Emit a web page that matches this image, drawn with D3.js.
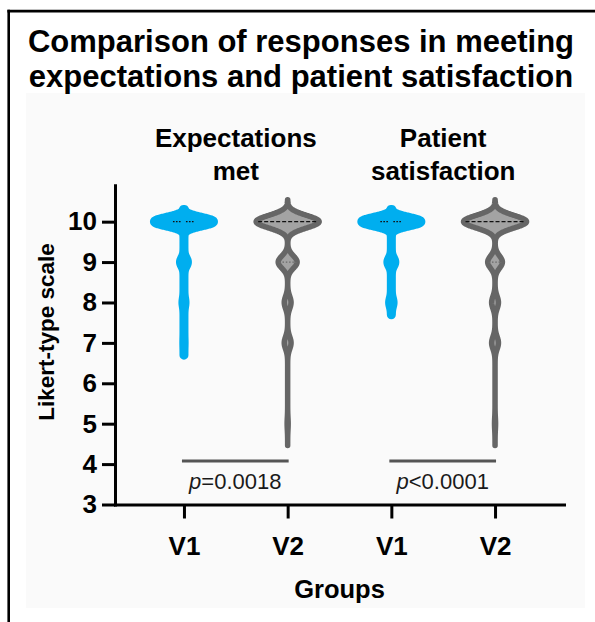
<!DOCTYPE html>
<html><head><meta charset="utf-8">
<script src="https://cdn.jsdelivr.net/npm/d3@7"></script>
<style>
html,body{margin:0;padding:0;background:#fff;}
svg{display:block;font-family:"Liberation Sans",Arial,Helvetica,sans-serif;}
</style></head><body>
<svg id="chart" width="595" height="622"></svg>
<script>
// ---------------- data ----------------
const titleLines = ["Comparison of responses in meeting", "expectations and patient satisfaction"];
const groupNames = [["Expectations", "met"], ["Patient", "satisfaction"]];
const categories = ["Expectations V1", "Expectations V2", "Satisfaction V1", "Satisfaction V2"];
const categoryLabels = ["V1", "V2", "V1", "V2"];
const scores = [4, 5, 6, 7, 8, 9, 10];
const countsExpV1 = [0, 0, 0, 1, 6, 20, 170];
const countsExpV2 = [0, 2, 0, 13, 13, 36, 120];
const countsSatV1 = [0, 0, 0, 0, 10, 20, 170];
const countsSatV2 = [0, 2, 0, 13, 13, 28, 120];
const yTicks = [3, 4, 5, 6, 7, 8, 9, 10];
const pValues = ["=0.0018", "<0.0001"];
const yLabel = "Likert-type scale";
const xLabel = "Groups";

// ---------------- setup ----------------
const svg = d3.select("#chart");
const W = 595, H = 622;

svg.append("rect").attr("x", 0).attr("y", 0).attr("width", W).attr("height", H).attr("fill", "#fff");
svg.append("rect").attr("x", 26).attr("y", 93).attr("width", 559).attr("height", 515).attr("fill", "#fafafa");
svg.append("line").attr("x1", 8.7).attr("x2", 8.7).attr("y1", 9.8).attr("y2", H).attr("stroke", "#000").attr("stroke-width", 2.6);
svg.append("line").attr("x1", 7.4).attr("x2", W).attr("y1", 11.1).attr("y2", 11.1).attr("stroke", "#000").attr("stroke-width", 2.6);

const y = d3.scaleLinear().domain([3, 10.9]).range([504.5, 185.3]);
const x = d3.scalePoint().domain(categories).range([115, 564]).padding(0.665);

const violins = [
  {cat: categories[0], counts: countsExpV1, v: "V1"},
  {cat: categories[1], counts: countsExpV2, v: "V2"},
  {cat: categories[2], counts: countsSatV1, v: "V1"},
  {cat: categories[3], counts: countsSatV2, v: "V2"}
];
const styles = {
  V1: {fill: "#00AEEF", stroke: "#00AEEF", sw: 9, bw: 0.105, cut: 2.9, maxW: 29.5},
  V2: {fill: "#a3a3a3", stroke: "#666666", sw: 5.5, bw: 0.155, cut: 3.5, maxW: 31.5}
};

function density(counts, h, t) {
  let d = 0;
  scores.forEach((s, i) => { if (counts[i]) d += counts[i] * Math.exp(-0.5 * ((t - s) / h) ** 2); });
  return d;
}

const gV = svg.append("g");
violins.forEach(vi => {
  const st = styles[vi.v];
  const present = scores.filter((s, i) => vi.counts[i] > 0);
  const lo = d3.min(present) - st.cut * st.bw, hi = d3.max(present) + st.cut * st.bw;
  const pts = d3.range(lo, hi + 1e-9, 0.005).map(t => [t, density(vi.counts, st.bw, t)]);
  const wScale = d3.scaleLinear().domain([0, d3.max(pts, d => d[1])]).range([0, st.maxW]);
  const cx = x(vi.cat);
  const area = d3.area().y(d => y(d[0])).x0(d => cx - wScale(d[1])).x1(d => cx + wScale(d[1]));
  gV.append("path").attr("d", area(pts))
    .attr("fill", st.fill).attr("stroke", st.stroke).attr("stroke-width", st.sw)
    .attr("stroke-linejoin", "round");
  const values = [];
  scores.forEach((s, i) => { for (let k = 0; k < vi.counts[i]; k++) values.push(s); });
  values.sort(d3.ascending);
  const med = d3.quantile(values, 0.5), q1 = d3.quantile(values, 0.25), q3 = d3.quantile(values, 0.75);
  const halfAt = t => wScale(density(vi.counts, st.bw, t));
  if (vi.v === "V1") {
    gV.append("line").attr("x1", cx - 11).attr("x2", cx - 2).attr("y1", y(med)).attr("y2", y(med))
      .attr("stroke", "#111").attr("stroke-width", 1.4).attr("stroke-dasharray", "1.6,1.4");
    gV.append("line").attr("x1", cx + 2).attr("x2", cx + 11).attr("y1", y(med)).attr("y2", y(med))
      .attr("stroke", "#111").attr("stroke-width", 1.4).attr("stroke-dasharray", "1.6,1.4");
  } else {
    const hm = halfAt(med) - 2;
    gV.append("line").attr("x1", cx - hm).attr("x2", cx + hm).attr("y1", y(med)).attr("y2", y(med))
      .attr("stroke", "#111").attr("stroke-width", 1.4).attr("stroke-dasharray", "4,2");
    [q1, q3].filter(q => q !== med).forEach(q => {
      const hq = halfAt(q) - 1;
      gV.append("line").attr("x1", cx - hq).attr("x2", cx + hq).attr("y1", y(q)).attr("y2", y(q))
        .attr("stroke", "#6a6a6a").attr("stroke-width", 1.3).attr("stroke-dasharray", "1.5,1.8");
    });
  }
});

// ---------------- axes ----------------
const yAxis = svg.append("g").attr("transform", "translate(115,0)")
  .call(d3.axisLeft(y).tickValues(yTicks).tickSize(13).tickSizeOuter(0).tickPadding(5));
const xAxis = svg.append("g").attr("transform", "translate(0,504.5)")
  .call(d3.axisBottom(x).tickSize(14).tickSizeOuter(0).tickPadding(18).tickFormat((d, i) => categoryLabels[i]));
[yAxis, xAxis].forEach(a => {
  a.select(".domain").attr("stroke", "#000").attr("stroke-width", 3).attr("stroke-linecap", "square");
  a.selectAll(".tick line").attr("stroke", "#000").attr("stroke-width", 3);
  a.selectAll(".tick text").attr("fill", "#000").attr("font-weight", "bold").attr("font-size", 26)
    .attr("font-family", "'Liberation Sans',Arial,sans-serif");
});

// ---------------- p-values ----------------
[[0, 1], [2, 3]].forEach((pair, i) => {
  const x1 = x(categories[pair[0]]) - 2, x2 = x(categories[pair[1]]) + 1;
  svg.append("line").attr("x1", x1).attr("x2", x2).attr("y1", 461).attr("y2", 461)
    .attr("stroke", "#555").attr("stroke-width", 3);
  const t = svg.append("text").attr("x", (x1 + x2) / 2).attr("y", 489).attr("text-anchor", "middle")
    .attr("font-size", 22).attr("fill", "#1a1a1a");
  t.append("tspan").attr("font-style", "italic").text("p");
  t.append("tspan").text(pValues[i]);
});

// ---------------- texts ----------------
titleLines.forEach((l, i) => {
  svg.append("text").attr("x", 301).attr("y", 52 + i * 34.5).attr("text-anchor", "middle")
    .attr("font-size", 31).attr("font-weight", "bold").attr("fill", "#000").text(l);
});
groupNames.forEach((g, gi) => {
  const cx = (x(categories[gi * 2]) + x(categories[gi * 2 + 1])) / 2;
  g.forEach((l, li) => {
    svg.append("text").attr("x", cx).attr("y", 147 + li * 33).attr("text-anchor", "middle")
      .attr("font-size", 26).attr("font-weight", "bold").attr("fill", "#000").text(l);
  });
});
svg.append("text").attr("transform", "translate(54,332) rotate(-90)").attr("text-anchor", "middle")
  .attr("font-size", 22.5).attr("font-weight", "bold").attr("fill", "#000").text(yLabel);
svg.append("text").attr("x", 339.5).attr("y", 598).attr("text-anchor", "middle")
  .attr("font-size", 25.5).attr("font-weight", "bold").attr("fill", "#000").text(xLabel);
</script>
</body></html>
